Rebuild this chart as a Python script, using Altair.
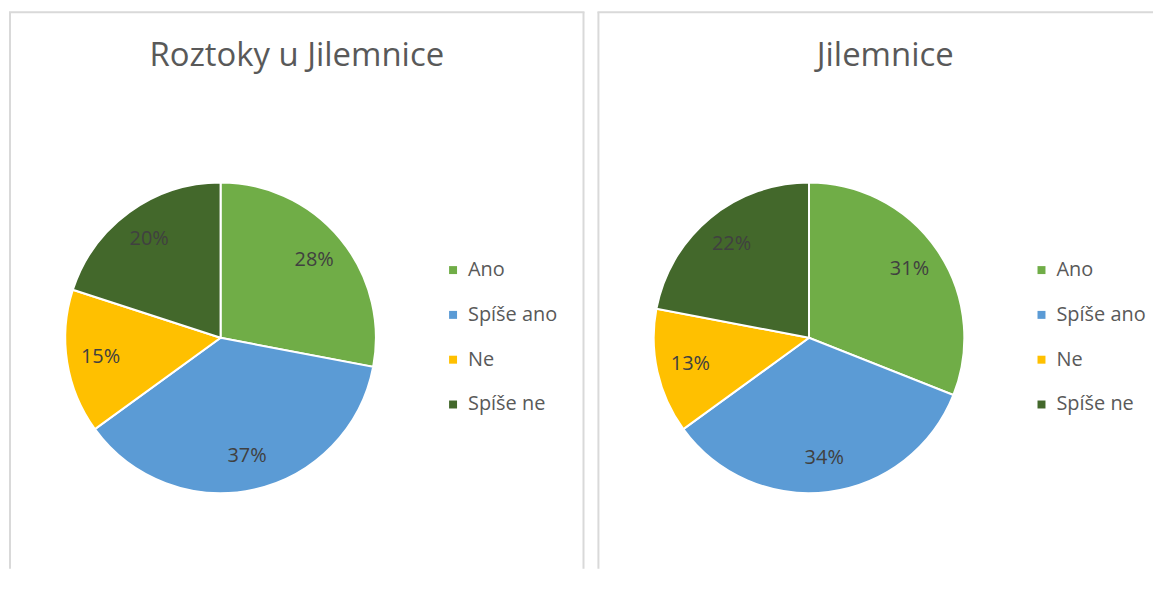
import altair as alt
import pandas as pd

categories = ["Ano", "Spíše ano", "Ne", "Spíše ne"]
colors = ["#70AD47", "#5B9BD5", "#FFC000", "#43682B"]
titles = ["Roztoky u Jilemnice", "Jilemnice"]
values_roztoky = [28, 37, 15, 20]
values_jilemnice = [31, 34, 13, 22]

FONT = "Open Sans"
BORDER = "#d9d9d9"
H = 560


def panel(title, vals, width, right_border):
    df = pd.DataFrame({
        "cat": categories,
        "value": vals,
        "idx": list(range(len(categories))),
        "label": [f"{v}%" for v in vals],
    })
    base = alt.Chart(df).encode(
        theta=alt.Theta("value:Q", stack=True),
        order=alt.Order("idx:Q"),
    )
    arc = base.mark_arc(outerRadius=156, stroke="white", strokeWidth=2).encode(
        x=alt.value(212.5),
        y=alt.value(328),
        color=alt.Color(
            "cat:N",
            scale=alt.Scale(domain=categories, range=colors),
            sort=categories,
            legend=alt.Legend(
                title=None,
                orient="none",
                legendX=436,
                legendY=250,
                symbolType="square",
                symbolSize=64,
                symbolStrokeWidth=0,
                labelFont=FONT,
                labelFontSize=20,
                labelColor="#595959",
                rowPadding=25,
                labelOffset=5,
            ),
        ),
    )
    text = base.mark_text(
        radius=122, font=FONT, fontSize=20, color="#404040"
    ).encode(
        x=alt.value(212.5),
        y=alt.value(328),
        text="label:N",
    )
    tdf = pd.DataFrame({"t": [title]})
    ttl = alt.Chart(tdf).mark_text(
        font=FONT, fontSize=33, color="#595959", baseline="middle", align="center"
    ).encode(x=alt.value(289), y=alt.value(45), text="t:N")

    bdf = pd.DataFrame({"b": [0]})
    left = alt.Chart(bdf).mark_rule(color=BORDER, strokeWidth=2).encode(
        x=alt.value(1), y=alt.value(1), y2=alt.value(H)
    )
    top = alt.Chart(bdf).mark_rule(color=BORDER, strokeWidth=2).encode(
        x=alt.value(0), x2=alt.value(width), y=alt.value(1)
    )
    layers = [left, top]
    if right_border:
        right = alt.Chart(bdf).mark_rule(color=BORDER, strokeWidth=2).encode(
            x=alt.value(width - 1), y=alt.value(1), y2=alt.value(H)
        )
        layers.append(right)
    return alt.layer(*layers, arc, text, ttl).resolve_scale(color="independent").properties(
        width=width, height=H
    )


chart = (
    alt.hconcat(
        panel(titles[0], values_roztoky, 578, True),
        panel(titles[1], values_jilemnice, 558, False),
        spacing=11,
    )
    .resolve_scale(color="independent", theta="independent")
    .configure_view(stroke=None)
    .properties(padding={"left": 0, "top": 2, "right": 0, "bottom": 0})
)

chart.save("out.html", embed_options={"renderer": "svg", "actions": False})
